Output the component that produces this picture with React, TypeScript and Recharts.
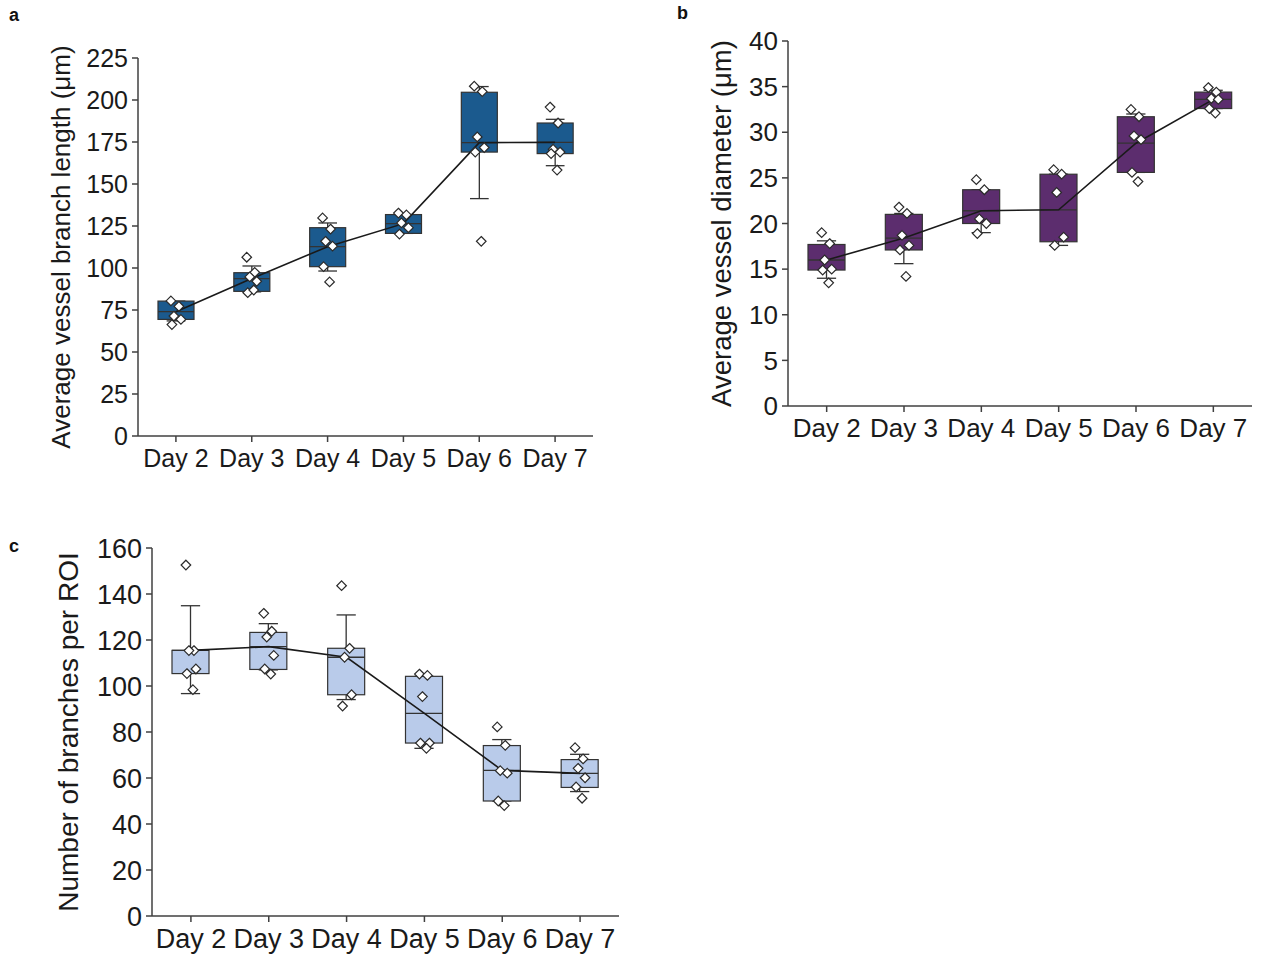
import {
  ComposedChart,
  Bar,
  Line,
  Scatter,
  XAxis,
  YAxis,
  Label,
} from 'recharts';

const DAYS = ['Day 2', 'Day 3', 'Day 4', 'Day 5', 'Day 6', 'Day 7'];

// a: average vessel branch length (µm)
const LEN_TICKS = [0, 25, 50, 75, 100, 125, 150, 175, 200, 225];
const LEN_Q1 = [69.4, 86.1, 100.8, 120.6, 169.0, 168.1];
const LEN_MEDIAN = [74.0, 93.7, 112.7, 126.4, 174.6, 174.8];
const LEN_Q3 = [80.3, 97.2, 124.0, 131.8, 204.6, 186.3];
const LEN_LOW = [68.5, 85.8, 98.2, 120.6, 141.3, 160.9];
const LEN_HIGH = [80.3, 101.2, 126.8, 131.8, 208.0, 188.5];
const LEN_POINTS = [
  [80.4, 77.2, 71.4, 69.4, 66.3],
  [106.4, 97.4, 94.7, 92.1, 85.3, 86.9],
  [129.8, 123.2, 115.9, 113.0, 100.8, 91.7],
  [132.7, 131.6, 126.8, 124.0, 120.2],
  [208.2, 205.0, 178.0, 171.7, 169.0, 115.9],
  [195.8, 186.3, 170.7, 169.0, 168.1, 158.3],
];

// b: average vessel diameter (µm)
const DIA_TICKS = [0, 5, 10, 15, 20, 25, 30, 35, 40];
const DIA_Q1 = [14.9, 17.1, 20.0, 18.0, 25.6, 32.6];
const DIA_MEDIAN = [16.0, 18.4, 21.4, 21.5, 28.8, 33.6];
const DIA_Q3 = [17.7, 21.0, 23.7, 25.4, 31.7, 34.4];
const DIA_LOW = [14.0, 15.6, 19.0, 17.6, 25.6, 32.6];
const DIA_HIGH = [18.1, 21.1, 23.7, 25.4, 32.0, 34.6];
const DIA_POINTS = [
  [19.0, 17.8, 16.0, 15.0, 14.9, 13.5],
  [21.8, 21.1, 18.7, 17.6, 17.1, 14.2],
  [24.8, 23.7, 20.5, 20.0, 18.9],
  [25.9, 25.4, 23.4, 18.5, 17.6],
  [32.5, 31.7, 29.6, 29.2, 25.6, 24.6],
  [34.9, 34.4, 33.7, 33.6, 32.6, 32.1],
];

// c: number of branches per ROI
const BR_TICKS = [0, 20, 40, 60, 80, 100, 120, 140, 160];
const BR_Q1 = [105.4, 107.2, 96.2, 75.2, 50.0, 55.9];
const BR_MEDIAN = [115.5, 117.1, 112.5, 88.1, 63.3, 62.0];
const BR_Q3 = [115.5, 123.3, 116.4, 104.2, 74.1, 68.0];
const BR_LOW = [96.7, 107.0, 94.1, 72.9, 50.0, 54.1];
const BR_HIGH = [134.9, 127.1, 130.9, 104.2, 76.7, 70.3];
const BR_POINTS = [
  [152.6, 115.4, 115.4, 107.4, 105.4, 98.4],
  [131.6, 123.8, 121.3, 113.3, 107.4, 105.2],
  [143.6, 116.4, 112.5, 96.2, 91.3],
  [105.2, 104.6, 95.4, 75.2, 75.2, 72.9],
  [82.2, 74.2, 63.2, 62.1, 50.0, 48.0],
  [73.2, 68.3, 64.2, 60.1, 56.1, 51.2],
];

const POINT_SLOTS = [0, 1, 2, 3, 4, 5];
const JITTER = [-5, 3, -2, 5, -4, 2];
const FONT = '"Liberation Sans", Arial, sans-serif';
const AXIS = '#404040';
const EDGE = '#333';

function buildRows(q1, median, q3, low, high, points) {
  return DAYS.map((day, i) => {
    const row = {
      day,
      q1: q1[i],
      median: median[i],
      q3: q3[i],
      low: Math.min(low[i], q1[i]),
      high: Math.max(high[i], q3[i]),
    };
    row.range = [row.low, row.high];
    points[i].forEach((v, j) => {
      row['p' + j] = v;
    });
    return row;
  });
}

function BoxShape(props) {
  const { x, y, width, height, payload, fill } = props;
  if (!payload) return null;
  const { low, high, q1, q3, median } = payload;
  const top = Math.min(y, y + height);
  const k = Math.abs(height) / (high - low);
  const py = (v) => top + (high - v) * k;
  const cx = x + width / 2;
  const cap = width * 0.26;
  return (
    <g>
      <line x1={cx} x2={cx} y1={py(high)} y2={py(low)} stroke={EDGE} strokeWidth={1.3} />
      <line x1={cx - cap} x2={cx + cap} y1={py(high)} y2={py(high)} stroke={EDGE} strokeWidth={1.3} />
      <line x1={cx - cap} x2={cx + cap} y1={py(low)} y2={py(low)} stroke={EDGE} strokeWidth={1.3} />
      <rect
        x={x}
        y={py(q3)}
        width={width}
        height={py(q1) - py(q3)}
        fill={fill}
        stroke={EDGE}
        strokeWidth={1.2}
      />
      <line x1={x} x2={x + width} y1={py(median)} y2={py(median)} stroke={EDGE} strokeWidth={1.3} />
    </g>
  );
}

function makeDiamond(dx) {
  return function Diamond(props) {
    const { cx, cy } = props;
    if (!Number.isFinite(cx) || !Number.isFinite(cy)) return null;
    const r = 4.8;
    const x = cx + dx;
    return (
      <path
        d={`M${x},${cy - r}L${x + r},${cy}L${x},${cy + r}L${x - r},${cy}Z`}
        fill="#fff"
        stroke="#2a2a2a"
        strokeWidth={1.2}
      />
    );
  };
}

function BoxPanel({
  rows,
  ticks,
  color,
  title,
  left,
  top,
  width,
  height,
  axisWidth,
  titleX,
  fontSize,
  titleSize,
  barSize,
}) {
  const max = ticks[ticks.length - 1];
  const tickStyle = { fill: '#1a1a1a', fontSize, fontFamily: FONT };
  return (
    <div style={{ position: 'absolute', left, top }}>
      <ComposedChart
        width={width}
        height={height}
        data={rows}
        margin={{ top: 20, right: 10, bottom: 0, left: 0 }}
      >
        <XAxis
          dataKey="day"
          type="category"
          height={50}
          tick={tickStyle}
          tickSize={6}
          tickMargin={7}
          interval={0}
          stroke={AXIS}
          strokeWidth={1.5}
        />
        <YAxis
          type="number"
          domain={[0, max]}
          ticks={ticks}
          interval={0}
          width={axisWidth}
          tick={tickStyle}
          tickSize={6}
          tickMargin={4}
          stroke={AXIS}
          strokeWidth={1.5}
        >
          <Label
            content={(p) => {
              const vb = p.viewBox || {};
              const cx = (vb.x || 0) + titleX;
              const cy = (vb.y || 0) + (vb.height || 0) / 2;
              return (
                <text
                  x={cx}
                  y={cy}
                  transform={`rotate(-90, ${cx}, ${cy})`}
                  textAnchor="middle"
                  dominantBaseline="central"
                  fontSize={titleSize}
                  fontFamily={FONT}
                  fill="#1a1a1a"
                >
                  {title}
                </text>
              );
            }}
          />
        </YAxis>
        <Bar
          dataKey="range"
          fill={color}
          barSize={barSize}
          shape={BoxShape}
          isAnimationActive={false}
        />
        <Line
          type="linear"
          dataKey="median"
          stroke="#1a1a1a"
          strokeWidth={1.6}
          dot={false}
          activeDot={false}
          isAnimationActive={false}
        />
        {POINT_SLOTS.map((j) => (
          <Scatter
            key={j}
            dataKey={'p' + j}
            shape={makeDiamond(JITTER[j])}
            isAnimationActive={false}
          />
        ))}
      </ComposedChart>
    </div>
  );
}

const letterStyle = (left, top) => ({
  position: 'absolute',
  left,
  top,
  fontFamily: FONT,
  fontWeight: 'bold',
  fontSize: 18,
  color: '#111',
});

export default function App() {
  const lenRows = buildRows(LEN_Q1, LEN_MEDIAN, LEN_Q3, LEN_LOW, LEN_HIGH, LEN_POINTS);
  const diaRows = buildRows(DIA_Q1, DIA_MEDIAN, DIA_Q3, DIA_LOW, DIA_HIGH, DIA_POINTS);
  const brRows = buildRows(BR_Q1, BR_MEDIAN, BR_Q3, BR_LOW, BR_HIGH, BR_POINTS);

  return (
    <div
      style={{
        position: 'absolute',
        left: 0,
        top: 0,
        width: 1261,
        height: 958,
        background: '#fff',
        overflow: 'hidden',
      }}
    >
      <div style={letterStyle(9, 5)}>a</div>
      <div style={letterStyle(677, 3)}>b</div>
      <div style={letterStyle(9, 536)}>c</div>

      <BoxPanel
        rows={lenRows}
        ticks={LEN_TICKS}
        color="#1b5a8e"
        title="Average vessel branch length (μm)"
        left={0}
        top={38}
        width={603}
        height={448}
        axisWidth={138}
        titleX={61}
        fontSize={25}
        titleSize={26}
        barSize={36}
      />
      <BoxPanel
        rows={diaRows}
        ticks={DIA_TICKS}
        color="#5c2d6e"
        title="Average vessel diameter (μm)"
        left={688}
        top={21}
        width={574}
        height={435}
        axisWidth={100}
        titleX={33}
        fontSize={26}
        titleSize={27.5}
        barSize={37}
      />
      <BoxPanel
        rows={brRows}
        ticks={BR_TICKS}
        color="#b9cbea"
        title="Number of branches per ROI"
        left={0}
        top={528}
        width={629}
        height={438}
        axisWidth={152}
        titleX={68}
        fontSize={27}
        titleSize={28}
        barSize={37}
      />
    </div>
  );
}
